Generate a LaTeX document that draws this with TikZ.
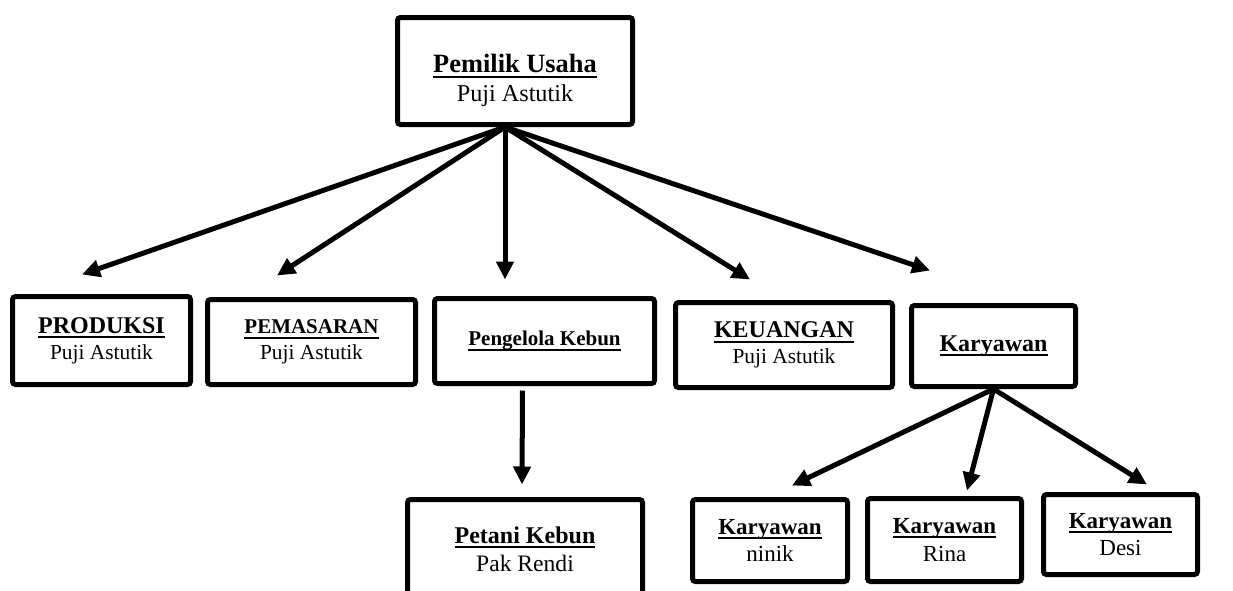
\documentclass[tikz,border=0pt]{standalone}
\usepackage{fontspec}
\setmainfont{Liberation Serif}
\usetikzlibrary{arrows.meta, positioning, calc}
\newcommand{\Jab}[1]{{\bfseries\setbox0=\hbox{#1}\rlap{\rule[-2.4pt]{\wd0}{1pt}}\box0}}
\newcommand{\Fs}[1]{\fontsize{#1}{1.2\dimexpr #1pt\relax}\selectfont}
\tikzset{
  every picture/.style={line width=2.5pt},
  unit/.style={draw, rounded corners=1.5pt, align=center, inner sep=0pt, font=\Fs{10.7}},
  link/.style={-{Triangle[length=9pt, width=8.5pt]}}
}

\begin{document}
\begin{tikzpicture}[x=0.5pt, y=-0.5pt]
    \useasboundingbox (0,0) rectangle (1233,590);

    % pimpinan
    \node [unit, minimum width=117.5pt, minimum height=53.5pt, font=\Fs{12.1}] (boss) at (515,71)
      {\rule{0pt}{19pt}{\Fs{13.2}\Jab{Pemilik Usaha}}\\Puji Astutik};

    % bagian
    \node [unit, minimum width=89pt, minimum height=44pt] (prod) at (101.5,340.5)
      {{\Fs{12}\Jab{PRODUKSI}}\\Puji Astutik};
    \node [unit, minimum width=104pt, minimum height=42.5pt] (pemas) at (311.5,342)
      {{\Fs{10.5}\Jab{PEMASARAN}}\\Puji Astutik};
    \node [unit, minimum width=110pt, minimum height=42.5pt] (kebun) at (544.5,341)
      {{\Fs{10.5}\Jab{Pengelola Kebun}}};
    \node [unit, minimum width=108.5pt, minimum height=42.5pt] (keu) at (784,345)
      {{\Fs{12}\Jab{KEUANGAN}}\\Puji Astutik};
    \node [unit, minimum width=82pt, minimum height=40.5pt] (kary) at (993.5,346)
      {{\Fs{12}\Jab{Karyawan}}};

    % staf
    \node [unit, minimum width=117.5pt, minimum height=50pt, font=\Fs{11.8}] (petani) at (525,549.5)
      {{\Fs{12}\Jab{Petani Kebun}}\\Pak Rendi};
    \node [unit, minimum width=77.5pt, minimum height=41pt, font=\Fs{11.5}] (ninik) at (770,540.5)
      {{\Fs{11.5}\Jab{Karyawan}}\\ninik};
    \node [unit, minimum width=77pt, minimum height=41.5pt, font=\Fs{11.5}] (rina) at (944.5,540)
      {{\Fs{11.5}\Jab{Karyawan}}\\Rina};
    \node [unit, minimum width=77pt, minimum height=40pt, font=\Fs{11.5}] (desi) at (1120.5,534.5)
      {{\Fs{11.5}\Jab{Karyawan}}\\Desi};

    \coordinate (hub) at ([xshift=-5pt]boss.south);

    \draw [link] (hub) -- ([shift={(-19.5,-19.5)}]prod.north);
    \draw [link] (hub) -- ([shift={(-34.5,-21.5)}]pemas.north);
    \draw [link] (hub) -- ([shift={(-39.5,-16.5)}]kebun.north);
    \draw [link] (hub) -- ([shift={(-34,-20.5)}]keu.north);
    \draw [link] (hub) -- ([shift={(-63.5,-32.5)}]kary.north);

    \draw [link] ([shift={(-22,4.5)}]kebun.south) -- ([shift={(-3,-12.5)}]petani.north);

    \draw [link] (kary.south) -- ([shift={(22,-11.5)}]ninik.north);
    \draw [link] (kary.south) -- ([shift={(22.5,-5.5)}]rina.north);
    \draw [link] (kary.south) -- ([shift={(26.5,-7.5)}]desi.north);
\end{tikzpicture}
\end{document}
